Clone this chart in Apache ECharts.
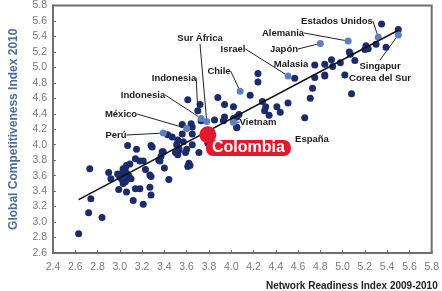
<!DOCTYPE html>
<html>
<head>
<meta charset="utf-8">
<script src="https://cdn.jsdelivr.net/npm/echarts@6/dist/echarts.min.js"></script>
<style>
  html, body { margin: 0; padding: 0; background: #fff; }
  #chart { width: 442px; height: 291px; }
</style>
</head>
<body>
<div id="chart"></div>
<script>
// countries without a name tag
const otherPoints = [
  [2.63,2.85],[2.72,3.12],[2.84,3.06],[2.74,3.30],[2.73,3.69],
  [2.90,3.64],[2.92,3.56],[2.98,3.62],[2.99,3.42],
  [3.00,3.58],[3.02,3.55],[3.04,3.60],[3.05,3.52],[3.07,3.56],[3.01,3.62],[3.08,3.60],[3.03,3.50],[3.10,3.56],[3.03,3.66],[3.06,3.63],
  [3.03,3.69],[3.06,3.73],[3.09,3.75],[3.05,3.70],
  [3.06,3.39],[3.14,3.43],[3.18,3.43],[3.12,3.28],[3.21,3.23],
  [3.27,3.45],[3.28,3.35],[3.27,3.61],[3.28,3.59],[3.23,3.68],
  [3.15,3.94],[3.14,3.82],[3.18,3.79],[3.21,3.79],[3.07,3.99],[3.28,3.99],
  [3.36,3.79],[3.38,3.91],[3.40,3.70],[3.44,3.55],[3.35,3.80],
  [3.50,3.90],[3.53,3.95],[3.60,3.94],[3.62,3.76],[3.61,3.72],[3.71,3.90],
  [3.29,3.97],[3.39,3.91],[3.37,3.85],[3.53,3.93],[3.52,3.87],[3.59,3.90],[3.63,3.73],
  [3.43,4.13],[3.47,4.10],[3.52,4.06],[3.57,4.04],[3.51,4.00],[3.65,4.00],[3.79,4.02],
  [3.56,4.14],[3.65,4.14],[3.65,4.23],[3.56,4.26],[3.64,4.27],
  [3.61,4.58],[3.72,4.52],[3.88,4.61],[3.94,4.52],[4.02,4.49],
  [3.73,4.31],[3.85,4.32],[3.94,4.36],[3.93,4.31],[4.02,4.34],[4.05,4.36],[4.05,4.22],
  [4.07,4.39],[4.05,4.23],
  [4.17,4.64],[4.24,4.92],[4.24,4.81],[4.28,4.56],[4.30,4.44],[4.31,4.49],[4.34,4.38],[4.41,4.49],[4.44,4.42],[4.51,4.54],
  [4.57,4.86],[4.75,4.87],[4.84,4.89],[4.73,4.73],[4.71,4.60],
  [4.84,5.04],[4.91,5.01],[4.98,5.06],[4.90,5.10],[4.84,4.90],
  [5.06,5.20],[5.07,5.17],[5.11,5.09],[5.21,5.28],[5.23,5.24],[5.20,5.23],[5.30,5.30],[5.39,5.26],
  [5.02,4.90],[5.08,4.66],[5.35,5.56],[5.50,5.49]
];

// highlighted (light blue) countries
const lightNames = ['Sur África','Indonesia','México','Perú','Chile','Israel','Japón','Alemania','Estados Unidos','Singapur\nCorea del Sur','Vietnam'];
const lightPoints = [[3.78,4.30],[3.73,4.34],[3.60,4.21],[3.39,4.15],[4.08,4.69],[4.51,4.89],[4.80,5.31],[5.05,5.34],[5.32,5.39],[5.50,5.42],[4.02,4.29]];

// named countries drawn as ordinary dots
const darkNames = ['Indonesia','Malasia','España'];
const darkPoints = [[3.70,4.44],[4.75,5.03],[4.66,4.35]];

const colombiaPoint = [3.79,4.13];

// trend line end points
const trendX = [2.63, 5.50];
const trendY = [3.29, 5.48];

// where the name tags sit (pixel centres)
const lightLabelPos = [[200,38],[143,95],[121,114],[116,135],[219,71],[233,49],[284,49],[283,33],[337,21],[380,72],[258,122]];
const darkLabelPos = [[174,78],[291,64],[312,139]];
const noLine = ['Malasia','España'];

const navy = '#1c2b6b';
const lightBlue = '#5f7fc4';
const font = "'Liberation Sans', Arial, sans-serif";

const tagLabel = {
  show: true,
  formatter: '{b}',
  color: '#1a1a1a',
  fontWeight: 'bold',
  fontSize: 9.5,
  lineHeight: 12,
  fontFamily: font
};
const tagLine = { show: true, lineStyle: { color: '#222', width: 1 } };

const chart = echarts.init(document.getElementById('chart'));
chart.setOption({
  animation: false,
  grid: { left: 39, right: 9, top: 4, bottom: 37, show: true, borderColor: '#6f6f6f', borderWidth: 2 },
  xAxis: {
    type: 'value', min: 2.4, max: 5.8, interval: 0.2,
    name: 'Network Readiness Index 2009-2010',
    nameLocation: 'end', nameGap: 6,
    nameTextStyle: { color: '#222', fontWeight: 'bold', fontSize: 10, fontFamily: font, align: 'right', verticalAlign: 'top', padding: [28, 0, 0, 0] },
    splitLine: { show: false },
    axisLine: { show: true, lineStyle: { color: '#6f6f6f', width: 2 } },
    axisTick: { inside: true, length: 3, lineStyle: { color: '#6f6f6f' } },
    axisLabel: { color: '#7a7a7a', fontSize: 10.5, fontFamily: font, margin: 9, formatter: v => v.toFixed(1) }
  },
  yAxis: {
    type: 'value', min: 2.6, max: 5.8, interval: 0.2,
    name: 'Global Competitiveness Index 2010',
    nameLocation: 'middle', nameGap: 33,
    nameTextStyle: { color: '#4d6c9c', fontWeight: 'bold', fontSize: 12, fontFamily: font },
    splitLine: { show: false },
    axisLine: { show: true, lineStyle: { color: '#6f6f6f', width: 2 } },
    axisTick: { inside: true, length: 3, lineStyle: { color: '#6f6f6f' } },
    axisLabel: { color: '#7a7a7a', fontSize: 10.5, fontFamily: font, margin: 6, formatter: v => v.toFixed(1) }
  },
  series: [
    {
      type: 'scatter', symbolSize: 7, z: 2,
      itemStyle: { color: navy, opacity: 1 },
      data: otherPoints
    },
    {
      type: 'scatter', symbolSize: 7, z: 3,
      itemStyle: { color: navy, opacity: 1 },
      data: darkPoints.map((p, i) => ({ name: darkNames[i], value: p, labelLine: { show: noLine.indexOf(darkNames[i]) < 0 } })),
      label: tagLabel,
      labelLine: tagLine,
      labelLayout: p => ({ x: darkLabelPos[p.dataIndex][0], y: darkLabelPos[p.dataIndex][1], align: 'center', verticalAlign: 'middle' })
    },
    {
      type: 'scatter', symbolSize: 7, z: 3,
      itemStyle: { color: lightBlue, opacity: 1 },
      data: lightPoints.map((p, i) => ({ name: lightNames[i], value: p })),
      label: tagLabel,
      labelLine: tagLine,
      labelLayout: p => ({ x: lightLabelPos[p.dataIndex][0], y: lightLabelPos[p.dataIndex][1], align: 'center', verticalAlign: 'middle' })
    },
    {
      type: 'line', z: 4, symbol: 'none',
      lineStyle: { color: '#111', width: 1.5 },
      data: trendX.map((x, i) => [x, trendY[i]])
    },
    {
      type: 'scatter', symbolSize: 17, z: 5,
      itemStyle: { color: '#e3182d', opacity: 1 },
      data: [{ name: 'Colombia', value: colombiaPoint }],
      label: {
        show: true, formatter: '{b}',
        color: '#fff', fontWeight: 'bold', fontSize: 16, lineHeight: 16,
        fontFamily: font,
        backgroundColor: '#e3182d', borderRadius: 7, padding: [0, 6]
      },
      labelLayout: { x: 206, y: 140, align: 'left', verticalAlign: 'top' }
    }
  ]
});
</script>
</body>
</html>
